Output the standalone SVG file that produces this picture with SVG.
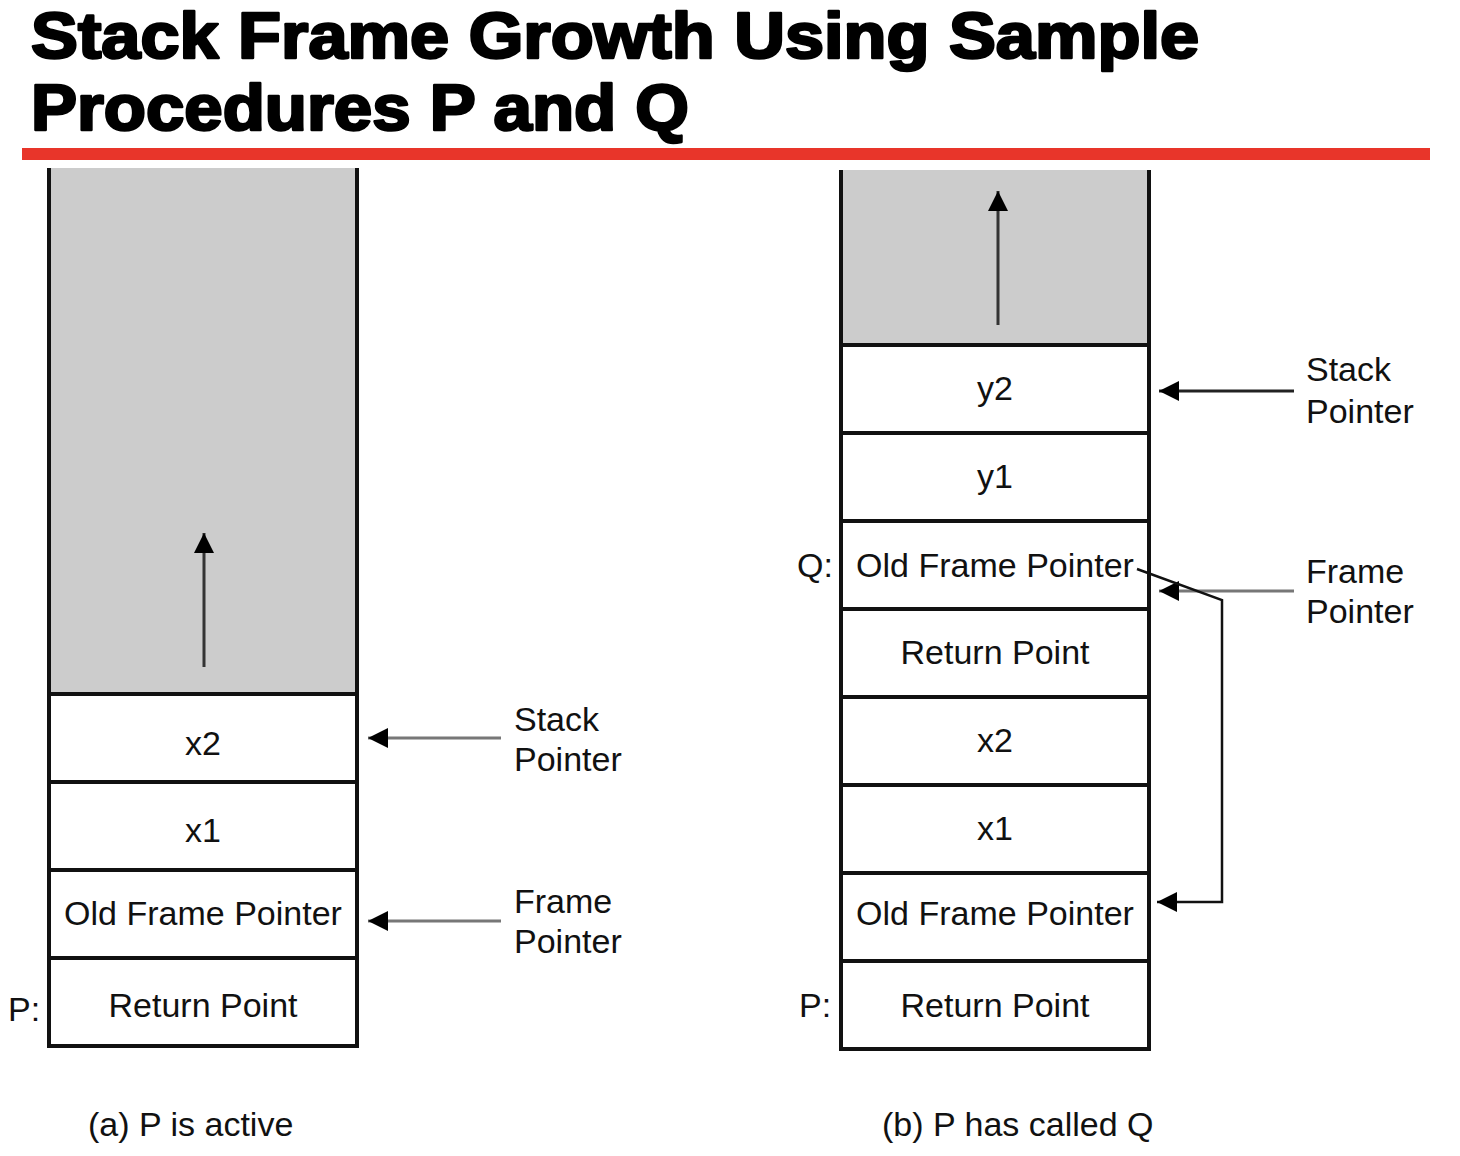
<svg xmlns="http://www.w3.org/2000/svg" width="1460" height="1156" viewBox="0 0 1460 1156">
<style>
.title{font-family:"Liberation Sans",Arial,sans-serif;font-weight:bold;font-size:64px;fill:#000;stroke:#000;stroke-width:2.6;stroke-linejoin:round}
.t{font-family:"Liberation Sans",Arial,sans-serif;font-size:34px;fill:#111}
.c{text-anchor:middle}
.cell{fill:#fff;stroke:#111;stroke-width:4}
.gray{fill:#cccccc;stroke:none}
.side{stroke:#111;stroke-width:4;fill:none}
.ptr{stroke:#777;stroke-width:3;fill:none}
.blk{stroke:#111;stroke-width:2.5;fill:none}
</style>
<defs>
<marker id="ah2" viewBox="0 0 10 10" refX="10" refY="5" markerWidth="20" markerHeight="20" markerUnits="userSpaceOnUse" orient="auto">
<path d="M0,0 L10,5 L0,10 Z" fill="#000"/>
</marker>
</defs>
<rect width="1460" height="1156" fill="#fff"/>
<g id="title">
<text class="title" x="31" y="58" textLength="1168" lengthAdjust="spacingAndGlyphs">Stack Frame Growth Using Sample</text>
<text class="title" x="31" y="130" textLength="658" lengthAdjust="spacingAndGlyphs">Procedures P and Q</text>
<rect x="22" y="148" width="1408" height="12" fill="#e8352a"/>
</g>
<g id="stack-a">
<rect class="gray" x="49" y="168" width="308" height="526"/>
<path class="side" d="M49,168 V694 M357,168 V694"/>
<g id="a-x2"><rect class="cell" x="49" y="694" width="308" height="88"/><text class="t c" x="203" y="755">x2</text></g>
<g id="a-x1"><rect class="cell" x="49" y="782" width="308" height="88"/><text class="t c" x="203" y="842">x1</text></g>
<g id="a-ofp"><rect class="cell" x="49" y="870" width="308" height="88"/><text class="t c" x="203" y="925">Old Frame Pointer</text></g>
<g id="a-rp"><rect class="cell" x="49" y="958" width="308" height="88"/><text class="t c" x="203" y="1017">Return Point</text></g>
<text class="t" x="8" y="1021">P:</text>
<text class="t" x="514" y="731">Stack</text>
<text class="t" x="514" y="771">Pointer</text>
<text class="t" x="514" y="913">Frame</text>
<text class="t" x="514" y="953">Pointer</text>
<text class="t" x="88" y="1136">(a) P is active</text>
</g>
<g id="stack-b">
<rect class="gray" x="841" y="170" width="308" height="175"/>
<path class="side" d="M841,170 V345 M1149,170 V345"/>
<g id="b-y2"><rect class="cell" x="841" y="345" width="308" height="88"/><text class="t c" x="995" y="400">y2</text></g>
<g id="b-y1"><rect class="cell" x="841" y="433" width="308" height="88"/><text class="t c" x="995" y="488">y1</text></g>
<g id="b-qofp"><rect class="cell" x="841" y="521" width="308" height="88"/><text class="t c" x="995" y="577">Old Frame Pointer</text></g>
<g id="b-qrp"><rect class="cell" x="841" y="609" width="308" height="88"/><text class="t c" x="995" y="664">Return Point</text></g>
<g id="b-x2"><rect class="cell" x="841" y="697" width="308" height="88"/><text class="t c" x="995" y="752">x2</text></g>
<g id="b-x1"><rect class="cell" x="841" y="785" width="308" height="88"/><text class="t c" x="995" y="840">x1</text></g>
<g id="b-ofp"><rect class="cell" x="841" y="873" width="308" height="88"/><text class="t c" x="995" y="925">Old Frame Pointer</text></g>
<g id="b-rp"><rect class="cell" x="841" y="961" width="308" height="88"/><text class="t c" x="995" y="1017">Return Point</text></g>
<text class="t" x="797" y="577">Q:</text>
<text class="t" x="799" y="1017">P:</text>
<text class="t" x="1306" y="381">Stack</text>
<text class="t" x="1306" y="423">Pointer</text>
<text class="t" x="1306" y="583">Frame</text>
<text class="t" x="1306" y="623">Pointer</text>
<text class="t" x="882" y="1136">(b) P has called Q</text>
</g>
<g id="connectors">
<line x1="204" y1="667" x2="204" y2="533" stroke="#333" stroke-width="3" marker-end="url(#ah2)"/>
<line x1="998" y1="325" x2="998" y2="191" stroke="#333" stroke-width="3" marker-end="url(#ah2)"/>
<line class="ptr" x1="501" y1="738" x2="368" y2="738" marker-end="url(#ah2)"/>
<line class="ptr" x1="501" y1="921" x2="368" y2="921" marker-end="url(#ah2)"/>
<line class="ptr" x1="1294" y1="391" x2="1159" y2="391" marker-end="url(#ah2)" style="stroke:#222"/>
<line class="ptr" x1="1294" y1="591" x2="1159" y2="591" marker-end="url(#ah2)"/>
<path class="blk" d="M1137,569 L1222,600 V902 H1157" marker-end="url(#ah2)"/>
</g>
</svg>
